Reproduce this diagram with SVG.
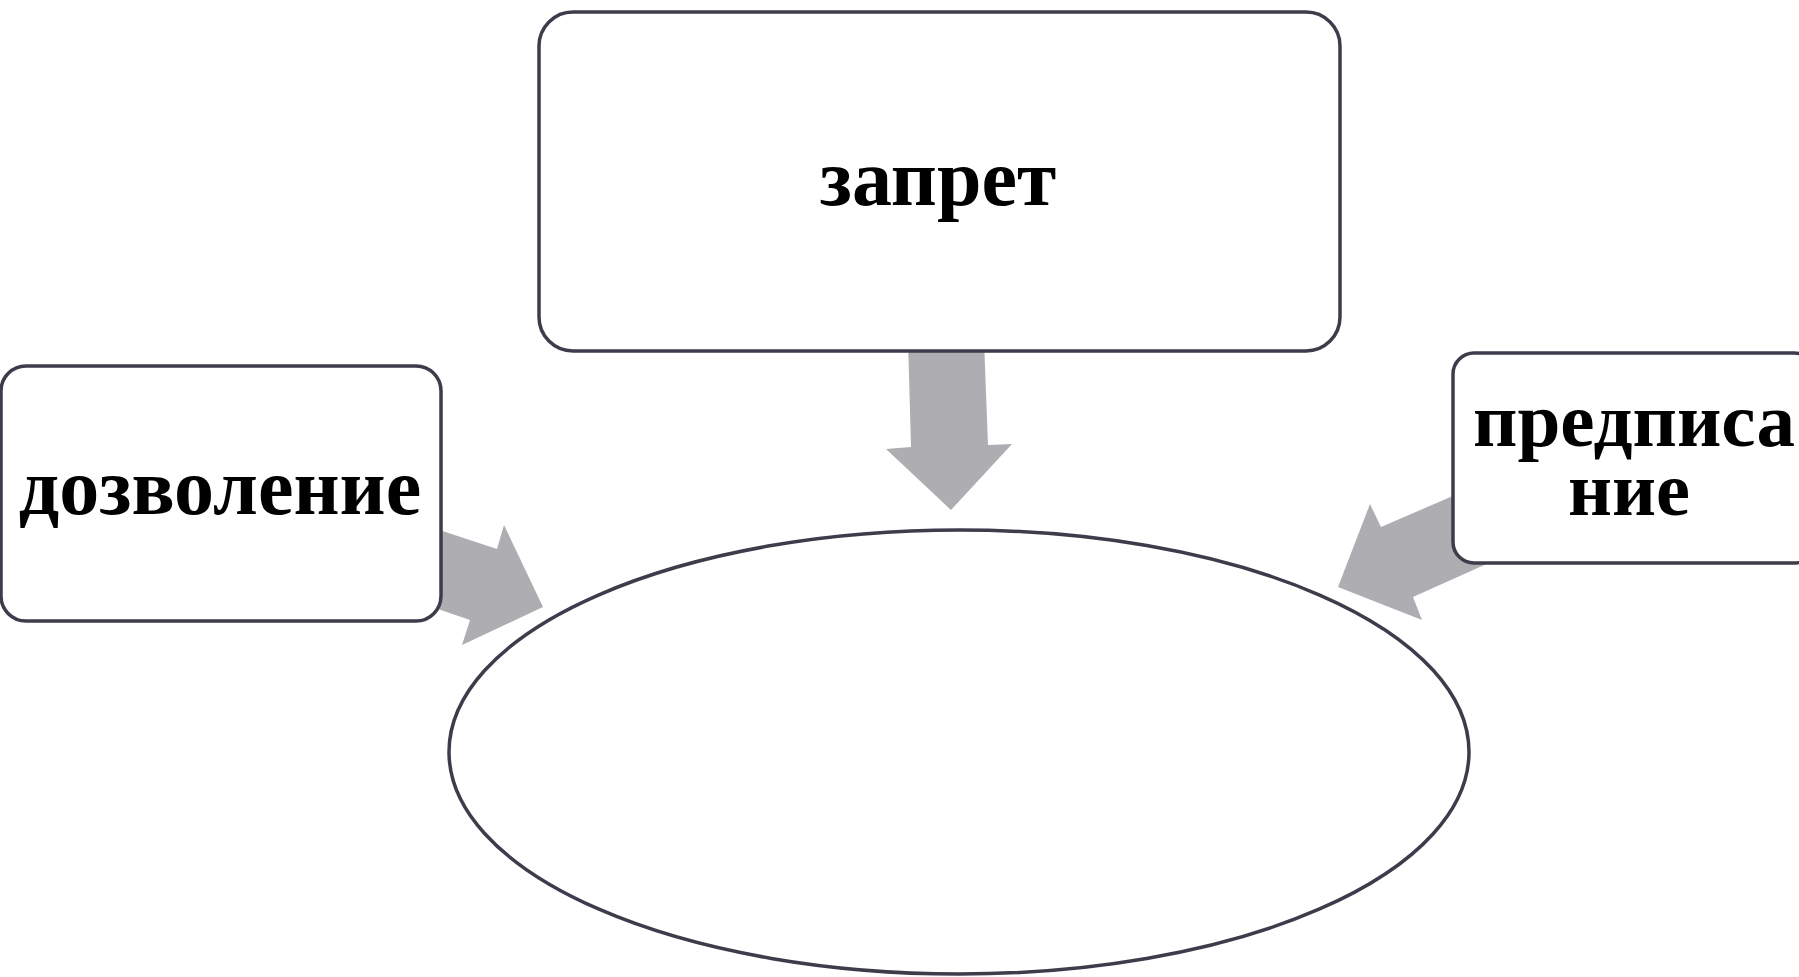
<svg xmlns="http://www.w3.org/2000/svg" width="1799" height="977" viewBox="0 0 1799 977">
  <style>
    .box { fill: #ffffff; stroke: #3c3c4b; stroke-width: 3.5; }
    .arrow { fill: #aeaeb2; stroke: none; }
    .label { font-family: "Liberation Serif", "Times New Roman", serif; font-weight: bold; font-size: 80px; fill: #000000; text-anchor: middle; }
    .small { font-size: 76px; }
  </style>
  <rect width="1799" height="977" fill="#ffffff"/>
  <g id="connectors">
    <polygon class="arrow" points="908,340 984,340 988,445 1012,444 951,510 886,449 911,447"/>
    <polygon class="arrow" points="400,517 497,549 504,525 543,607 462,645 470,620 400,596"/>
    <polygon class="arrow" points="1520,467 1381,527 1370,504 1338,587 1422,620 1413,597 1520,549"/>
  </g>
  <g id="node-center">
    <ellipse class="box" cx="959" cy="752" rx="510" ry="222"/>
  </g>
  <g id="node-zapret">
    <rect class="box" x="539" y="12" width="801" height="339" rx="34" ry="34"/>
    <text class="label" x="938" y="205">запрет</text>
  </g>
  <g id="node-dozvolenie">
    <rect class="box" x="1" y="366" width="440" height="255" rx="25" ry="25"/>
    <text class="label" x="220" y="514">дозволение</text>
  </g>
  <g id="node-predpisanie">
    <rect class="box" x="1453" y="353" width="362" height="210" rx="21" ry="21"/>
    <text class="label small" x="1634" y="446" textLength="322" lengthAdjust="spacingAndGlyphs">предписа</text>
    <text class="label small" x="1629" y="515" textLength="122" lengthAdjust="spacingAndGlyphs">ние</text>
  </g>
</svg>
